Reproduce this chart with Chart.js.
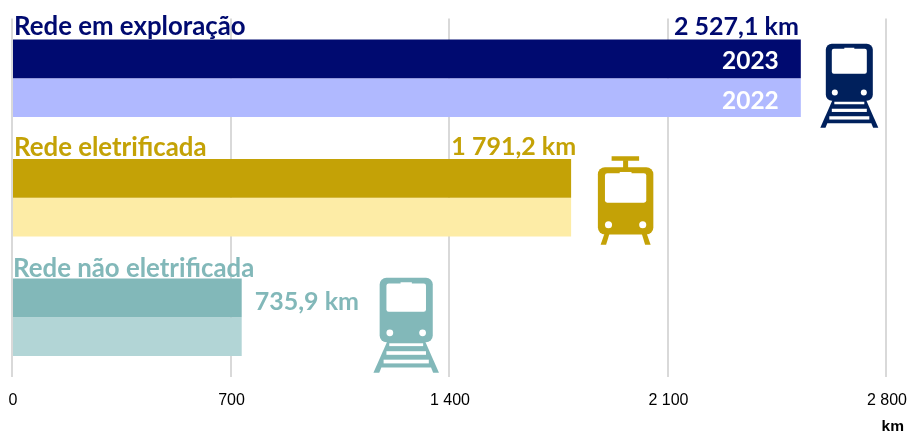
<!DOCTYPE html>
<html><head><meta charset="utf-8">
<style>html,body{margin:0;padding:0;background:#fff;overflow:hidden}#c{display:block}</style>
<script src="https://cdn.jsdelivr.net/npm/chart.js@4"></script></head>
<body><canvas id="c" width="909" height="432"></canvas>
<script>
const categories = ['Rede em exploração', 'Rede eletrificada', 'Rede não eletrificada'];
const values2023 = [2527.1, 1791.2, 735.9];
const values2022 = [2527.1, 1791.2, 735.9];
const seriesNames = ['2023', '2022'];
const valueLabels = ['2 527,1 km', '1 791,2 km', '735,9 km'];
const tickLabels = ['0', '700', '1 400', '2 100', '2 800'];
const unitLabel = 'km';
const colors2023 = ['#000a70', '#c4a206', '#82b8b9'];
const colors2022 = ['#b0b9ff', '#fdeca6', '#b2d5d6'];
const iconColors = ['#00205c', '#c4a206', '#82b8b9'];
const TITLE_FONT = 'bold 25.8px Lato, sans-serif';
const VALUE_FONT = 'bold 25px Lato, sans-serif';
const YEAR_FONT = 'bold 24.5px Lato, sans-serif';

function rr(ctx,x,y,w,h,r){ctx.beginPath();ctx.roundRect(x,y,w,h,r);}
function trainBody(ctx,cx,top,s,color){
  ctx.fillStyle=color;
  rr(ctx,cx-23.5*s,top,47*s,57*s,6*s);ctx.fill();
  ctx.fillStyle='#fff';
  rr(ctx,cx-17.5*s,top+5*s,35*s,25*s,2*s);ctx.fill();
  ctx.fillRect(cx-5*s,top+4*s,10*s,2*s);
  ctx.beginPath();ctx.arc(cx-14.5*s,top+48.7*s,3*s,0,7);ctx.fill();
  ctx.beginPath();ctx.arc(cx+14.5*s,top+48.7*s,3*s,0,7);ctx.fill();
}
function rails(ctx,cx,top,s,color){
  ctx.fillStyle=color;
  ctx.beginPath();
  ctx.moveTo(cx-16.7*s,top-1);ctx.lineTo(cx+16.7*s,top-1);
  ctx.lineTo(cx+29*s,top+27*s);ctx.lineTo(cx-29*s,top+27*s);ctx.closePath();ctx.fill();
  ctx.fillStyle='#fff';
  for(const [y,h,w] of [[1,2.5,15],[8,3.2,17.5],[15.5,3.3,20]]){
    ctx.fillRect(cx-w*s,top+y*s,2*w*s,h*s);
  }
  ctx.beginPath();
  ctx.moveTo(cx-22*s,top+22.5*s);ctx.lineTo(cx+22*s,top+22.5*s);
  ctx.lineTo(cx+24*s,top+27.5*s);ctx.lineTo(cx-24*s,top+27.5*s);ctx.closePath();ctx.fill();
}
function drawIcon(ctx,i,cx,top){
  const col=iconColors[i];
  if(i===0){rails(ctx,cx,top+57,1,col);trainBody(ctx,cx,top,1,col);}
  if(i===2){const s=1.13;rails(ctx,cx,top+57*s,s,col);trainBody(ctx,cx,top,s,col);}
  if(i===1){
    const s=1.18;
    ctx.fillStyle=col;
    ctx.fillRect(cx-14,top-11,27.5,4.5);
    ctx.fillRect(cx-2.5,top-7,5,8);
    trainBody(ctx,cx,top,s,col);
    ctx.fillStyle=col;
    for(const d of [-1,1]){
      ctx.beginPath();
      ctx.moveTo(cx+d*16,top+66);ctx.lineTo(cx+d*21,top+66);
      ctx.lineTo(cx+d*25,top+77.5);ctx.lineTo(cx+d*19.5,top+77.5);ctx.closePath();ctx.fill();
    }
  }
}
const overlay={
  id:'overlay',
  afterDatasetsDraw(chart){
    const {ctx,scales:{x,y}}=chart;
    ctx.save();
    ctx.textBaseline='alphabetic';
    categories.forEach((name,i)=>{
      const c=y.getPixelForValue(i), end=x.getPixelForValue(values2023[i]), x0=x.getPixelForValue(0);
      ctx.fillStyle=colors2023[i];
      ctx.font=TITLE_FONT;
      ctx.textAlign='left';
      ctx.fillText(name,x0+[2,2,1][i],c-[43.5,41.5,40][i]);
      ctx.font=VALUE_FONT;
      if(i===0){
        ctx.textAlign='right';ctx.fillText(valueLabels[i],end-2,c-43);
        ctx.font=YEAR_FONT;
        ctx.fillStyle='#fff';
        ctx.fillText(seriesNames[0],end-22,c-9.5);
        ctx.fillText(seriesNames[1],end-22,c+30.5);
      } else if(i===1){
        ctx.textAlign='right';ctx.fillText(valueLabels[i],end+5,c-43);
      } else {
        ctx.textAlign='left';ctx.fillText(valueLabels[i],end+13,c-7);
      }
      const off=[48.5,54.5,164.5][i], tops=[-34.5,-30.5,-39.5][i];
      drawIcon(ctx,i,end+off,c+tops);
    });
    ctx.font='bold 15.5px "Liberation Sans", Arial, sans-serif';
    ctx.fillStyle='#000';ctx.textAlign='right';
    ctx.fillText(unitLabel,904,431);
    ctx.restore();
  }
};
new Chart(document.getElementById('c'),{
  type:'bar',
  data:{labels:categories,datasets:[
    {label:seriesNames[0],data:values2023,backgroundColor:colors2023,borderWidth:0,categoryPercentage:0.648,barPercentage:1},
    {label:seriesNames[1],data:values2022,backgroundColor:colors2022,borderWidth:0,categoryPercentage:0.648,barPercentage:1}
  ]},
  options:{
    indexAxis:'y',responsive:false,animation:false,
    layout:{padding:{left:12,right:23,top:18.5,bottom:0}},
    plugins:{legend:{display:false},tooltip:{enabled:false},title:{display:false}},
    scales:{
      x:{type:'linear',min:0,max:2800,
        afterFit(s){s.height=55;s.paddingLeft=0;s.paddingRight=0;},
        afterBuildTicks(s){s.ticks=[0,700,1400,2100,2800].map(v=>({value:v}));},
        grid:{color:'#d9d9d9',lineWidth:2,drawTicks:false},
        border:{display:false},
        ticks:{padding:14,labelOffset:1,maxRotation:0,autoSkip:false,color:'#000',font:{family:'"Liberation Sans", Arial, sans-serif',size:16},
          callback:(v,i)=>tickLabels[i]}
      },
      y:{type:'category',display:false}
    }
  },
  plugins:[overlay]
});
</script></body></html>
